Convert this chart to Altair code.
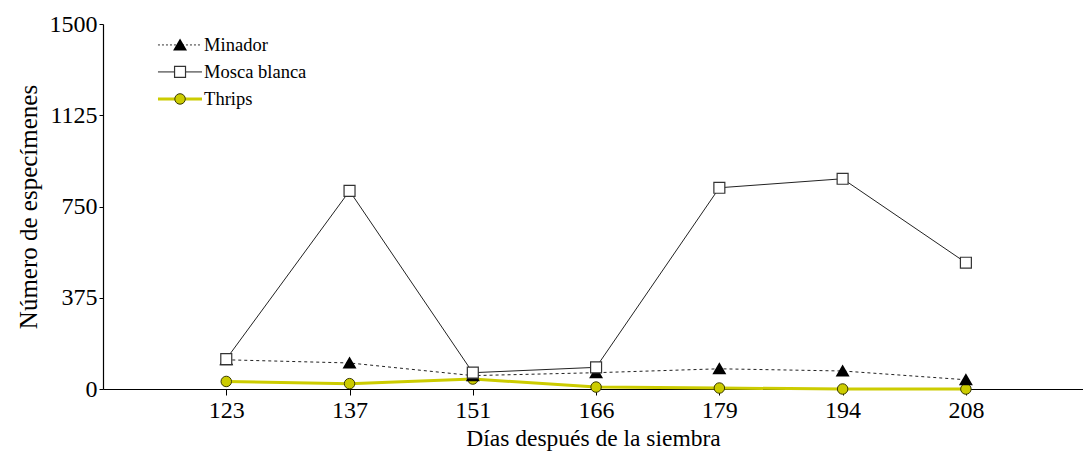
import json
import altair as alt
import pandas as pd

# Days after sowing (evenly spaced sampling positions on the axis)
days = ["123", "137", "151", "166", "179", "194", "208"]

# Number of specimens per pest
minador = [120, 107, 55, 67, 83, 74, 38]
mosca_blanca = [123, 814, 67, 89, 827, 864, 519]
thrips = [31, 22, 41, 8, 4, 0, 0]

series_names = ["Minador", "Mosca blanca", "Thrips"]
series_values = [minador, mosca_blanca, thrips]

rows = []
for name, vals in zip(series_names, series_values):
    for i, (d, v) in enumerate(zip(days, vals)):
        rows.append({"idx": i, "dia": d, "serie": name, "n": v})
df = pd.DataFrame(rows)

FONT = "Liberation Serif"
YELLOW = "#cccc00"

label_expr = json.dumps(days) + "[datum.value]"

x_enc = alt.X(
    "idx:Q",
    scale=alt.Scale(domain=[-1, 6.95], nice=False, zero=False),
    axis=alt.Axis(
        values=list(range(len(days))),
        labelExpr=label_expr,
        title="Días después de la siembra",
        grid=False,
        tickSize=6,
        labelPadding=3,
        titlePadding=4,
        labelFontSize=24,
        titleFontSize=23.5,
    ),
)
y_enc = alt.Y(
    "n:Q",
    scale=alt.Scale(domain=[0, 1500], nice=False),
    axis=alt.Axis(
        values=[0, 375, 750, 1125, 1500],
        format="d",
        title="Número de especímenes",
        grid=False,
        tickSize=4,
        labelPadding=2,
        titlePadding=8,
        labelFontSize=24,
        titleFontSize=25,
    ),
)

base = alt.Chart(df).encode(x=x_enc, y=y_enc)


def sub(name):
    return base.transform_filter(alt.datum.serie == name)


thrips_line = sub("Thrips").mark_line(color=YELLOW, strokeWidth=3)
minador_line = sub("Minador").mark_line(color="#222222", strokeWidth=1, strokeDash=[3, 3])
mosca_line = sub("Mosca blanca").mark_line(color="#222222", strokeWidth=1)

thrips_pts = sub("Thrips").mark_point(
    shape="circle", size=110, filled=True, fill=YELLOW, stroke="#3a3a00", strokeWidth=1, opacity=1
)
minador_pts = sub("Minador").mark_point(
    shape="triangle-up", size=110, filled=True, fill="black", stroke="black", opacity=1
)
mosca_pts = sub("Mosca blanca").mark_point(
    shape="square", size=120, filled=True, fill="white", stroke="#333333", strokeWidth=1.2, opacity=1
)

# Legend drawn in data units in the upper-left corner of the plot
leg = pd.DataFrame(
    {
        "serie": series_names,
        "x0": [-0.554] * 3,
        "x1": [-0.197] * 3,
        "xm": [-0.375] * 3,
        "xt": [-0.18] * 3,
        "y": [1414, 1303, 1192],
    }
)
lx = alt.Scale(domain=[-1, 6.95], nice=False, zero=False)
ly = alt.Scale(domain=[0, 1500], nice=False)
lbase = alt.Chart(leg)


def lsub(name):
    return lbase.transform_filter(alt.datum.serie == name)


def lrule(name, **kw):
    return lsub(name).mark_rule(**kw).encode(
        x=alt.X("x0:Q", scale=lx), x2="x1:Q", y=alt.Y("y:Q", scale=ly)
    )


def lpoint(name, **kw):
    return lsub(name).mark_point(opacity=1, **kw).encode(
        x=alt.X("xm:Q", scale=lx), y=alt.Y("y:Q", scale=ly)
    )


leg_layers = [
    lrule("Minador", color="#333333", strokeWidth=1, strokeDash=[2, 2]),
    lpoint("Minador", shape="triangle-up", size=110, filled=True, fill="black", stroke="black"),
    lrule("Mosca blanca", color="#222222", strokeWidth=1),
    lpoint("Mosca blanca", shape="square", size=120, filled=True, fill="white", stroke="#333333", strokeWidth=1.2),
    lrule("Thrips", color=YELLOW, strokeWidth=3),
    lpoint("Thrips", shape="circle", size=110, filled=True, fill=YELLOW, stroke="#3a3a00", strokeWidth=1),
]
leg_text = lbase.mark_text(
    align="left", baseline="middle", font=FONT, fontSize=18.5, color="black"
).encode(x=alt.X("xt:Q", scale=lx), y=alt.Y("y:Q", scale=ly), text="serie:N")

chart = (
    alt.layer(
        thrips_line,
        minador_line,
        mosca_line,
        thrips_pts,
        minador_pts,
        mosca_pts,
        *leg_layers,
        leg_text,
    )
    .properties(
        width=980,
        height=365,
        padding={"left": 103, "top": 24, "right": 0, "bottom": 62},
        autosize=alt.AutoSizeParams(type="none"),
        background="white",
    )
    .configure_view(stroke=None)
    .configure_axis(
        domainColor="black",
        tickColor="black",
        labelColor="black",
        titleColor="black",
        labelFont=FONT,
        titleFont=FONT,
        titleFontWeight="normal",
        domainWidth=1.2,
    )
)

chart.save("out.html", embed_options={"renderer": "svg", "actions": False})
